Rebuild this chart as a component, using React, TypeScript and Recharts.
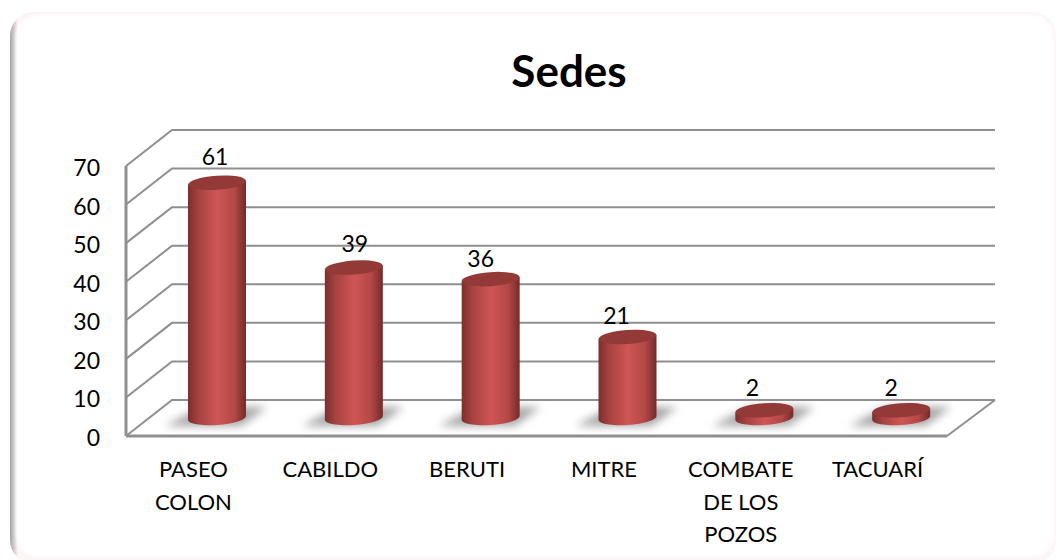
import React from "react";
import { BarChart, Bar, XAxis, YAxis, CartesianGrid, LabelList } from "recharts";

const categories = ["PASEO COLON", "CABILDO", "BERUTI", "MITRE", "COMBATE DE LOS POZOS", "TACUARÍ"];
const sedes = [61, 39, 36, 21, 2, 2];
const yTicks = [0, 10, 20, 30, 40, 50, 60, 70];
const title = "Sedes";

const rows = categories.map((name, i) => ({ name, value: sedes[i] }));

const FONT = "Lato, Carlito, sans-serif";
const GRID = "#8f8f8f";
const WIDTH = 1059;
const HEIGHT = 560;
const PLOT_BOTTOM = 436;
const DEPTH_X = 46;
const DEPTH_Y = 36;
const BAR_DX = 23;
const BAR_DY = -18;
const LABEL_DX = [-2, 1, -10, -11, -12, -10];
const LABEL_RISE = [18, 16, 12, 13, 14, 14];

function wrap(label: string, max: number): string[] {
  const lines: string[] = [];
  let cur = "";
  for (const w of label.split(" ")) {
    const next = cur ? cur + " " + w : w;
    if (next.length > max && cur) {
      lines.push(cur);
      cur = w;
    } else cur = next;
  }
  if (cur) lines.push(cur);
  return lines;
}

function CategoryTick(props: any) {
  const { x, y, payload } = props;
  const lines = wrap(String(payload.value), 8);
  return (
    <text x={x - 1} y={y} textAnchor="middle" fontFamily={FONT} fontSize={22} fill="#000">
      {lines.map((l, i) => (
        <tspan key={i} x={x - 1} y={y + 33 + i * 32.5}>{l}</tspan>
      ))}
    </text>
  );
}

function ValueTick(props: any) {
  const { x, y, payload } = props;
  return (
    <text x={x} y={y + 10} textAnchor="end" fontFamily={FONT} fontSize={23} fill="#000">
      {payload.value}
    </text>
  );
}

function gridLine(props: any) {
  const { x1, x2, y1, key } = props;
  const bx = x1 + DEPTH_X;
  const by = y1 - DEPTH_Y;
  const endX = x2 + 48;
  let d = `M${x1},${y1}L${bx},${by}L${endX},${by}`;
  if (Math.abs(y1 - PLOT_BOTTOM) < 1) d += `M${endX},${by}L${x2},${y1}`;
  return <path key={key} d={d} fill="none" stroke={GRID} strokeWidth={2} />;
}

function Cylinder(props: any) {
  const { x, y, width, height } = props;
  const cx = x + width / 2 + BAR_DX;
  const left = x + BAR_DX;
  const right = left + width;
  const top = y + BAR_DY;
  const base = y + height + BAR_DY;
  const rx = width / 2;
  const ry = 7;
  const tilt = 2;
  return (
    <g>
      <polygon
        points={`${cx - 52},${base + 8} ${cx + 24},${base + 8} ${cx + 50},${base - 11} ${cx - 16},${base - 11}`}
        fill="#a6a6a6"
        filter="url(#floorShadow)"
      />
      <path
        d={`M${left},${top + tilt}L${left},${base + tilt}A${rx},${ry} -4 0 0 ${right},${base - tilt}L${right},${top - tilt}Z`}
        fill="url(#cylSide)"
      />
      <ellipse cx={cx} cy={top} rx={rx} ry={ry} fill="#933937" transform={`rotate(-4 ${cx} ${top})`} />
    </g>
  );
}

function ValueLabel(props: any) {
  const { x, y, width, value, index } = props;
  return (
    <text
      x={x + width / 2 + BAR_DX + LABEL_DX[index]}
      y={y + BAR_DY - LABEL_RISE[index]}
      textAnchor="middle"
      fontFamily={FONT}
      fontSize={23}
      fill="#000"
    >
      {value}
    </text>
  );
}

export default function App() {
  return (
    <div style={{ position: "absolute", left: 0, top: 0, width: WIDTH, height: HEIGHT, background: "#fff", overflow: "hidden" }}>
      <svg width={WIDTH} height={HEIGHT} style={{ position: "absolute", left: 0, top: 0 }}>
        <defs>
          <linearGradient id="frameFill" gradientUnits="userSpaceOnUse" x1="10" y1="0" x2="18" y2="0">
            <stop offset="0" stopColor="#a9a1a3" />
            <stop offset="1" stopColor="#fdf4f6" />
          </linearGradient>
          <filter id="frameBlur" x="-2%" y="-2%" width="104%" height="104%">
            <feGaussianBlur stdDeviation="1.5" />
          </filter>
        </defs>
        <rect x={10} y={12} width={1046} height={552} rx={24} fill="url(#frameFill)" />
        <rect x={16} y={15} width={1038} height={542} rx={22} fill="#fff" filter="url(#frameBlur)" />
      </svg>
      <div style={{ position: "absolute", left: 0, top: 0 }}>
        <BarChart
          width={WIDTH}
          height={HEIGHT}
          data={rows}
          barSize={58}
          margin={{ top: 166, right: 112, bottom: 84, left: 66 }}
        >
          <defs>
            <linearGradient id="cylSide" x1="0" y1="0" x2="1" y2="0">
              <stop offset="0" stopColor="#7c2e2c" />
              <stop offset="0.18" stopColor="#a54240" />
              <stop offset="0.5" stopColor="#cf5655" />
              <stop offset="0.8" stopColor="#b34846" />
              <stop offset="1" stopColor="#732b29" />
            </linearGradient>
            <filter id="floorShadow" x="-30%" y="-60%" width="160%" height="220%">
              <feGaussianBlur stdDeviation="4" />
            </filter>
          </defs>
          <text x={569} y={87} textAnchor="middle" fontFamily={FONT} fontSize={44} fontWeight={700} fill="#000">
            {title}
          </text>
          <CartesianGrid vertical={false} horizontal={gridLine} />
          <XAxis
            dataKey="name"
            height={40}
            interval={0}
            tickLine={false}
            axisLine={{ stroke: GRID, strokeWidth: 3 }}
            tick={CategoryTick}
          />
          <YAxis
            type="number"
            domain={[0, 70]}
            ticks={yTicks}
            width={60}
            tickLine={false}
            tickMargin={20}
            axisLine={{ stroke: GRID, strokeWidth: 3 }}
            tick={ValueTick}
          />
          <Bar dataKey="value" isAnimationActive={false} shape={Cylinder}>
            <LabelList dataKey="value" content={ValueLabel} />
          </Bar>
        </BarChart>
      </div>
    </div>
  );
}
